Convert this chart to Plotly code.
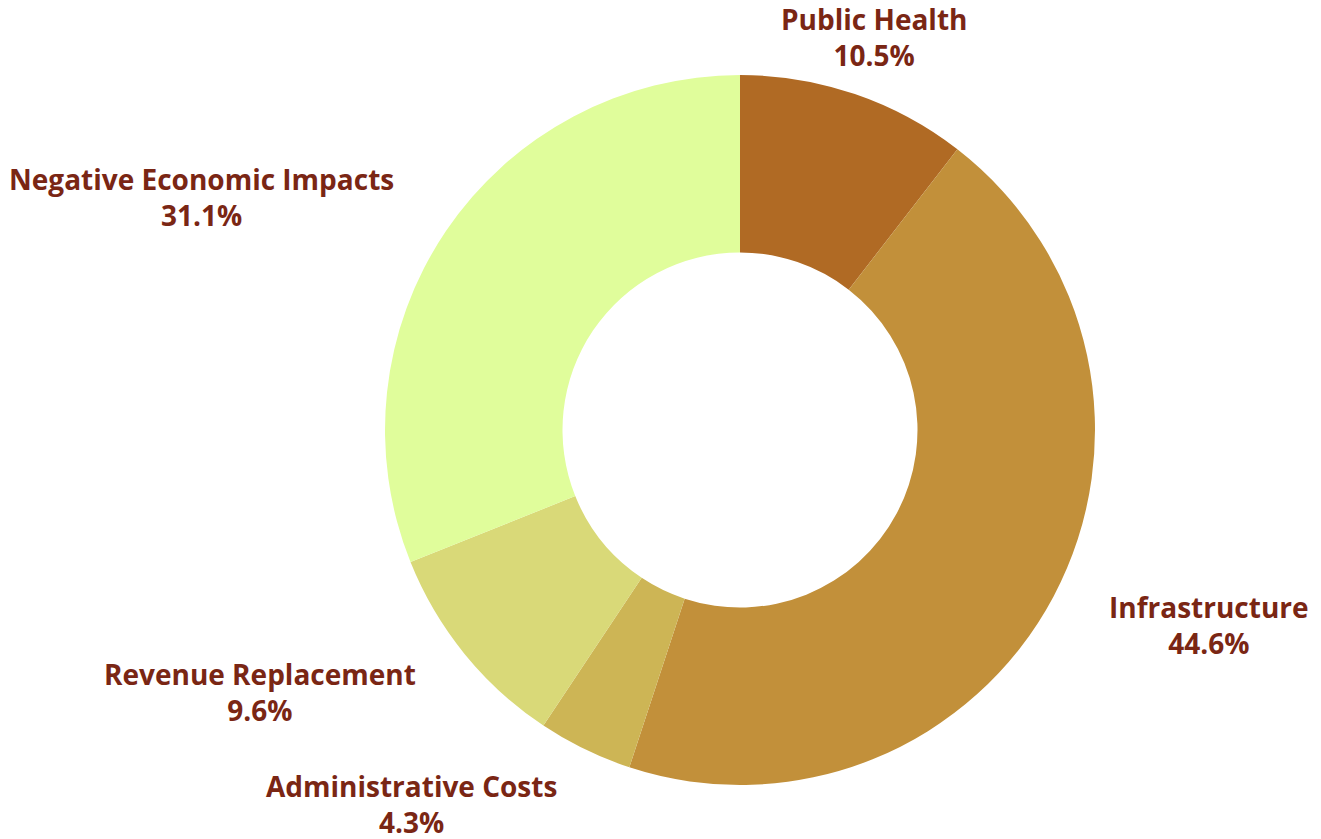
import math
import plotly.graph_objects as go

categories = ["Public Health", "Infrastructure", "Administrative Costs", "Revenue Replacement", "Negative Economic Impacts"]
values = [10.5, 44.6, 4.3, 9.6, 31.1]
colors = ["#b06a24", "#c2903a", "#cdb555", "#d9d978", "#e0fd9b"]

# page body has an 8px margin, so figure coordinates are screen - 8
W, H = 1313, 831
CX, CY, R = 732, 422, 355          # pie centre / radius in pixels (layout)
LABEL_R = R * 1.17                 # label anchor radius

fig = go.Figure(go.Pie(
    labels=categories,
    values=values,
    hole=0.5,
    sort=False,
    direction="clockwise",
    rotation=0,
    marker=dict(colors=colors, line=dict(width=0)),
    textinfo="none",
    showlegend=False,
    hoverinfo="label+percent",
    domain=dict(x=[(CX - R) / W, (CX + R) / W], y=[(H - CY - R) / H, (H - CY + R) / H]),
))

total = sum(values)
cum = 0.0
annotations = []
for lab, v in zip(categories, values):
    mid = (cum + v / 2) / total * 2 * math.pi
    cum += v
    s, c = math.sin(mid), math.cos(mid)
    px = CX + LABEL_R * s
    py = CY - LABEL_R * c
    if abs(s) < 0.35:
        xa = "center"
    elif s > 0:
        xa = "left"
    else:
        xa = "right"
    annotations.append(dict(
        x=px / W, y=1 - py / H, xref="paper", yref="paper",
        text=f"<b>{lab}</b><br><b>{v / total * 100:.1f}%</b>",
        showarrow=False, xanchor=xa, yanchor="middle", align="center",
        font=dict(family="Open Sans", size=28, color="#7a2614"),
    ))

fig.update_layout(
    width=W, height=H,
    margin=dict(l=0, r=0, t=0, b=0),
    paper_bgcolor="white",
    plot_bgcolor="white",
    annotations=annotations,
)
fig.write_html("out.html")
